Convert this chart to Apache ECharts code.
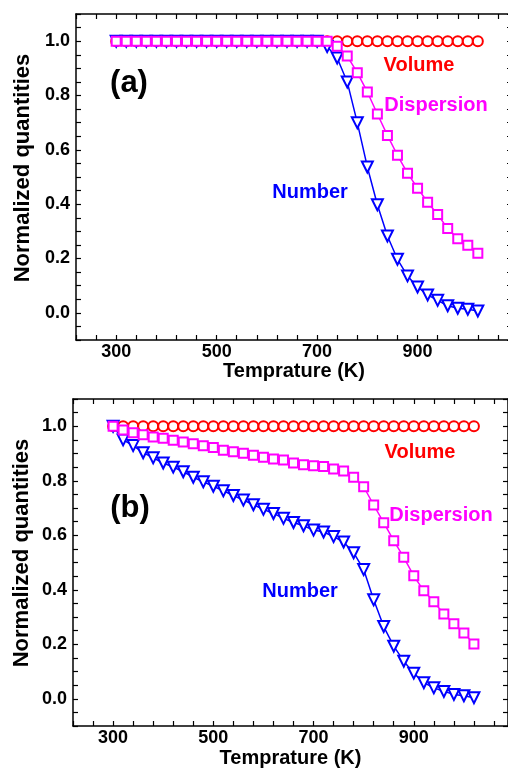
<!DOCTYPE html>
<html>
<head>
<meta charset="utf-8">
<script src="https://cdn.jsdelivr.net/npm/echarts@6/dist/echarts.min.js"></script>
<style>
  html, body { margin: 0; padding: 0; background: #fff; }
  #main { width: 508px; height: 771px; }
</style>
</head>
<body>
<div id="main"></div>
<script>
// temperature (K)
var temps = [300, 320, 340, 360, 380, 400, 420, 440, 460, 480, 500, 520, 540, 560, 580, 600, 620, 640, 660,
             680, 700, 720, 740, 760, 780, 800, 820, 840, 860, 880, 900, 920, 940, 960, 980, 1000, 1020];

// panel (a)
var volA = [1, 1, 1, 1, 1, 1, 1, 1, 1, 1, 1, 1, 1, 1, 1, 1, 1, 1, 1,
            1, 1, 1, 1, 1, 1, 1, 1, 1, 1, 1, 1, 1, 1, 1, 1, 1, 1];
var dispA = [1, 1, 1, 1, 1, 1, 1, 1, 1, 1, 1, 1, 1, 1, 1, 1, 1, 1, 1,
             1, 1, 1, 0.981, 0.945, 0.884, 0.813, 0.732, 0.653, 0.58, 0.514, 0.459, 0.407, 0.362, 0.31, 0.273, 0.249, 0.219];
var numA = [1, 1, 1, 1, 1, 1, 1, 1, 1, 1, 1, 1, 1, 1, 1, 1, 1, 1, 1,
            1, 1, 0.98, 0.938, 0.85, 0.70, 0.537, 0.398, 0.283, 0.197, 0.136, 0.095, 0.066, 0.046, 0.026, 0.017, 0.013, 0.007];

// panel (b)
var volB = [1, 1, 1, 1, 1, 1, 1, 1, 1, 1, 1, 1, 1, 1, 1, 1, 1, 1, 1,
            1, 1, 1, 1, 1, 1, 1, 1, 1, 1, 1, 1, 1, 1, 1, 1, 1, 1];
var dispB = [1, 0.986, 0.976, 0.969, 0.961, 0.956, 0.949, 0.942, 0.936, 0.928, 0.922, 0.912, 0.906, 0.901, 0.894, 0.886, 0.880, 0.876, 0.865,
             0.859, 0.855, 0.852, 0.843, 0.836, 0.813, 0.778, 0.711, 0.646, 0.58, 0.519, 0.451, 0.396, 0.356, 0.311, 0.275, 0.241, 0.201];
var numB = [1, 0.95, 0.929, 0.903, 0.884, 0.865, 0.850, 0.833, 0.813, 0.796, 0.780, 0.763, 0.746, 0.729, 0.712, 0.695, 0.680, 0.662, 0.647,
            0.635, 0.619, 0.612, 0.595, 0.575, 0.536, 0.474, 0.363, 0.265, 0.193, 0.138, 0.094, 0.059, 0.040, 0.027, 0.016, 0.011, 0.004];

var xTickLabels = [300, 500, 700, 900];
var yTickLabels = [0, 0.2, 0.4, 0.6, 0.8, 1.0];

var FONT = "'Liberation Sans', Arial, sans-serif";
var RED = '#ff0000', MAGENTA = '#ff00ff', BLUE = '#0000ff';

function pairs(ys) {
    return temps.map(function (t, i) { return [t, ys[i]]; });
}

function xLabel(v) {
    return xTickLabels.indexOf(Math.round(v)) >= 0 ? String(Math.round(v)) : '';
}
function yLabel(v) {
    var k = Math.round(v * 100);
    for (var i = 0; i < yTickLabels.length; i++) {
        if (Math.round(yTickLabels[i] * 100) === k) return yTickLabels[i].toFixed(1);
    }
    return '';
}

var axisLine = { show: true, onZero: false, lineStyle: { color: '#000', width: 1.5 } };
var axisTick = { show: true, inside: true, length: 5, lineStyle: { color: '#000', width: 1.2 } };

function xAxes(g) {
    return [{
        gridIndex: g, type: 'value', position: 'bottom',
        min: 220, max: 1088, interval: 40,
        axisLine: axisLine, axisTick: axisTick, splitLine: { show: false },
        axisLabel: { formatter: xLabel, color: '#000', fontFamily: FONT, fontWeight: 'bold', fontSize: 18, margin: 3 },
        name: 'Temprature (K)', nameLocation: 'middle', nameGap: g === 0 ? 18 : 22,
        nameTextStyle: { color: '#000', fontFamily: FONT, fontWeight: 'bold', fontSize: 20 }
    }, {
        gridIndex: g, type: 'value', position: 'top',
        min: 220, max: 1088, interval: 40,
        axisLine: axisLine, axisTick: axisTick, splitLine: { show: false },
        axisLabel: { show: false }
    }];
}
function yAxes(g) {
    return [{
        gridIndex: g, type: 'value', position: 'left',
        min: -0.1, max: 1.1, interval: 0.05,
        axisLine: axisLine, axisTick: axisTick, splitLine: { show: false },
        axisLabel: { formatter: yLabel, color: '#000', fontFamily: FONT, fontWeight: 'bold', fontSize: 18, margin: 6 }
    }, {
        gridIndex: g, type: 'value', position: 'right',
        min: -0.1, max: 1.1, interval: 0.05,
        axisLine: axisLine, axisTick: axisTick, splitLine: { show: false },
        axisLabel: { show: false }
    }];
}

function line(name, data, color, symbol, size, g, rotate) {
    return {
        name: name, type: 'line', xAxisIndex: g * 2, yAxisIndex: g * 2,
        data: pairs(data),
        symbol: symbol, symbolSize: size, symbolRotate: rotate || 0,
        showAllSymbol: true, animation: false,
        lineStyle: { color: color, width: 1.5 },
        itemStyle: { color: color, borderColor: color, borderWidth: 1.5 }
    };
}

function label(text, x, y, color, size, rot) {
    return {
        type: 'text', x: x, y: y, rotation: rot || 0,
        style: { text: text, fill: color, font: 'bold ' + size + 'px ' + FONT, textAlign: 'center', textVerticalAlign: 'middle' }
    };
}

var chart = echarts.init(document.getElementById('main'));

var option = {
    backgroundColor: '#fff',
    animation: false,
    grid: [
        { left: 76, top: 14, width: 436, height: 326, outerBoundsMode: 'none', containLabel: false },
        { left: 73, top: 399, width: 435, height: 327, outerBoundsMode: 'none', containLabel: false }
    ],
    xAxis: xAxes(0).concat(xAxes(1)),
    yAxis: yAxes(0).concat(yAxes(1)),
    series: [
        line('Volume', volA, RED, 'emptyCircle', 10, 0),
        line('Number', numA, BLUE, 'emptyTriangle', 11, 0, 180),
        line('Dispersion', dispA, MAGENTA, 'emptyRect', 9, 0),
        line('Volume', volB, RED, 'emptyCircle', 10, 1),
        line('Number', numB, BLUE, 'emptyTriangle', 11, 1, 180),
        line('Dispersion', dispB, MAGENTA, 'emptyRect', 9, 1)
    ],
    graphic: [
        label('Normalized quantities', 23, 168, '#000', 22, Math.PI / 2),
        label('Normalized quantities', 22, 553, '#000', 22, Math.PI / 2),
        label('(a)', 129, 83, '#000', 31),
        label('Volume', 419, 65, RED, 20),
        label('Dispersion', 436, 105, MAGENTA, 20),
        label('Number', 310, 192, BLUE, 20),
        label('(b)', 130, 508, '#000', 31),
        label('Volume', 420, 452, RED, 20),
        label('Dispersion', 441, 515, MAGENTA, 20),
        label('Number', 300, 591, BLUE, 20)
    ]
};

chart.setOption(option);
</script>
</body>
</html>
